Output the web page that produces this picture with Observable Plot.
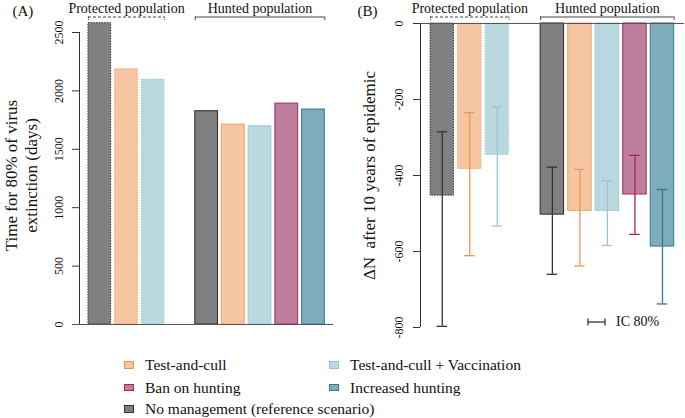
<!DOCTYPE html>
<html>
<head>
<meta charset="utf-8">
<script src="https://cdn.jsdelivr.net/npm/d3@7"></script>
<script src="https://cdn.jsdelivr.net/npm/@observablehq/plot@0.6"></script>
<style>
  body { margin: 0; background: #fff; }
  #wrap { position: relative; width: 685px; height: 418px; font-family: "Liberation Serif", "Times New Roman", serif; color: #111; overflow: hidden; }
  #pa { position: absolute; left: 0; top: 0; }
  #pb { position: absolute; left: 340px; top: 0; }
  .leg { position: absolute; display: flex; align-items: center; height: 20px; font-size: 15.5px; white-space: nowrap; }
  .sw { display: inline-block; width: 8px; height: 5.5px; border: 1.1px solid; margin-right: 11px; }
  #ic { position: absolute; left: 586px; top: 312px; font-size: 14px; display: flex; align-items: center; height: 20px; }
</style>
</head>
<body>
<div id="wrap">
  <div id="pa"></div>
  <div id="pb"></div>
  <div id="legend"></div>
  <div id="ic"><svg width="22" height="10" style="margin-right:8px"><line x1="2" y1="5" x2="19" y2="5" stroke="#222" stroke-width="1.2"/><line x1="2" y1="1.5" x2="2" y2="8.5" stroke="#222" stroke-width="1.2"/><line x1="19" y1="1.5" x2="19" y2="8.5" stroke="#222" stroke-width="1.2"/></svg><span>IC 80%</span></div>
</div>
<script>
// ---------------- data ----------------
const populations = ["Protected population", "Hunted population"];
const scenarios = ["No management (reference scenario)", "Test-and-cull", "Test-and-cull + Vaccination", "Ban on hunting", "Increased hunting"];

const barPopulation = ["Protected population", "Protected population", "Protected population",
  "Hunted population", "Hunted population", "Hunted population", "Hunted population", "Hunted population"];
const barScenario = [scenarios[0], scenarios[1], scenarios[2],
  scenarios[0], scenarios[1], scenarios[2], scenarios[3], scenarios[4]];

// (A) time for 80% of virus extinction (days)
const extinctionDays = [2580, 2185, 2097, 1826, 1711, 1697, 1891, 1840];
// (B) change in population size after 10 years of epidemic, with 80% interval
const deltaN     = [-453, -383, -346, -503, -493, -493, -450, -587];
const deltaNLow  = [-797, -611, -533, -660, -638, -584, -555, -738];
const deltaNHigh = [-285, -235, -219, -378, -384, -414, -347, -437];

const ticksA = [0, 500, 1000, 1500, 2000, 2500];
const ticksB = [0, -200, -400, -600, -800];

const legendOrder = [scenarios[1], scenarios[2], scenarios[3], scenarios[4], scenarios[0]];

// ---------------- styles ----------------
const fillC   = {[scenarios[0]]: "#808080", [scenarios[1]]: "#F5C6A1", [scenarios[2]]: "#BAD8E0", [scenarios[3]]: "#BF7E9E", [scenarios[4]]: "#7EACBD"};
const strokeC = {[scenarios[0]]: "#333333", [scenarios[1]]: "#F2A66A", [scenarios[2]]: "#A3CCD7", [scenarios[3]]: "#9E3966", [scenarios[4]]: "#3D7E9A"};
const errC    = {[scenarios[0]]: "#333333", [scenarios[1]]: "#EF9653", [scenarios[2]]: "#98C7D3", [scenarios[3]]: "#A2245C", [scenarios[4]]: "#2E7A97"};

// gap of one slot between the two population groups
const rows = barScenario.map((s, i) => ({
  pop: barPopulation[i], scen: s,
  slot: i + (barPopulation[i] === populations[1] ? 1 : 0),
  days: extinctionDays[i], dn: deltaN[i], lo: deltaNLow[i], hi: deltaNHigh[i]
}));
const half = 0.425;
const groups = populations.map(p => {
  const r = rows.filter(d => d.pop === p);
  return {pop: p, x1: r[0].slot - half, x2: r[r.length - 1].slot + half,
          mid: (r[0].slot + r[r.length - 1].slot) / 2, dashed: p === populations[0]};
});
const edges = groups.flatMap(g => [{x: g.x1, dashed: g.dashed}, {x: g.x2, dashed: g.dashed}]);
const prot = rows.filter(d => d.pop === populations[0]);
const hunt = rows.filter(d => d.pop === populations[1]);

const font = {fontFamily: "Liberation Serif, Times New Roman, serif", fontSize: "12px", background: "transparent", overflow: "visible", color: "#111"};

function headerMarks(yTop, textDy, bracketDy) {
  return [
    Plot.text(groups, {x: "mid", y: () => yTop, text: "pop", dy: textDy, lineAnchor: "bottom", fontSize: 14, fill: "#111"}),
    Plot.ruleY(groups.filter(g => g.dashed), {x1: "x1", x2: "x2", y: () => yTop, dy: bracketDy, stroke: "#444", strokeDasharray: "3,2"}),
    Plot.ruleY(groups.filter(g => !g.dashed), {x1: "x1", x2: "x2", y: () => yTop, dy: bracketDy, stroke: "#444"}),
    Plot.ruleX(edges.filter(e => e.dashed), {x: "x", y1: () => yTop, y2: () => yTop, dy: bracketDy, insetBottom: -3.5, stroke: "#444", strokeDasharray: "1.5,1"}),
    Plot.ruleX(edges.filter(e => !e.dashed), {x: "x", y1: () => yTop, y2: () => yTop, dy: bracketDy, insetBottom: -3.5, stroke: "#444"})
  ];
}

// ---------------- panel A ----------------
const xDomA = [-0.76, 8.75];
const plotA = Plot.plot({
  width: 340, height: 335,
  marginLeft: 79, marginRight: 7, marginTop: 32, marginBottom: 11,
  style: font,
  x: {type: "linear", domain: xDomA, axis: null},
  y: {domain: [0, 2500], axis: null},
  marks: [
    Plot.rect(prot, {x1: d => d.slot - half, x2: d => d.slot + half, y1: 0, y2: "days",
      fill: d => fillC[d.scen], stroke: d => strokeC[d.scen], strokeWidth: 1, strokeDasharray: "1.5,1.2"}),
    Plot.rect(hunt, {x1: d => d.slot - half, x2: d => d.slot + half, y1: 0, y2: "days",
      fill: d => fillC[d.scen], stroke: d => strokeC[d.scen], strokeWidth: 1.1}),
    Plot.ruleX([xDomA[0]], {y1: 0, y2: ticksA[ticksA.length - 1], stroke: "#333"}),
    Plot.ruleY(ticksA, {y: d => d, x1: xDomA[0], x2: xDomA[0], insetLeft: -7, stroke: "#333"}),
    Plot.ruleY([0], {insetLeft: -7, stroke: "#555", strokeWidth: 1.2}),
    Plot.text(ticksA, {y: d => d, text: d => String(d), frameAnchor: "left", dx: -20, rotate: -90, textAnchor: "middle", lineAnchor: "middle", fontSize: 12, fill: "#111"}),
    Plot.text(["Time for 80% of virus\nextinction (days)"], {text: d => d, frameAnchor: "left", dx: -59, dy: -3, rotate: -90, textAnchor: "middle", lineAnchor: "middle", fontSize: 17, lineHeight: 1.15, fill: "#111"}),
    Plot.text(["(A)"], {text: d => d, frameAnchor: "top-left", dx: -67, dy: -17, textAnchor: "start", lineAnchor: "bottom", fontSize: 15, fill: "#111"}),
    ...headerMarks(ticksA[ticksA.length - 1], -19.5, -15.5)
  ]
});
document.getElementById("pa").appendChild(plotA);

// ---------------- panel B ----------------
const xDomB = [-0.79, 8.8];
const plotB = Plot.plot({
  width: 345, height: 335,
  marginLeft: 80, marginRight: 1, marginTop: 23, marginBottom: 8,
  style: font,
  x: {type: "linear", domain: xDomB, axis: null},
  y: {domain: [-800, 0], axis: null},
  marks: [
    Plot.rect(prot, {x1: d => d.slot - half, x2: d => d.slot + half, y1: 0, y2: "dn",
      fill: d => fillC[d.scen], stroke: d => strokeC[d.scen], strokeWidth: 1, strokeDasharray: "1.5,1.2"}),
    Plot.rect(hunt, {x1: d => d.slot - half, x2: d => d.slot + half, y1: 0, y2: "dn",
      fill: d => fillC[d.scen], stroke: d => strokeC[d.scen], strokeWidth: 1.1}),
    Plot.ruleX(rows, {x: "slot", y1: "lo", y2: "hi", stroke: d => errC[d.scen], strokeWidth: 1.3}),
    Plot.ruleY(rows, {x1: d => d.slot - 0.19, x2: d => d.slot + 0.19, y: "lo", stroke: d => errC[d.scen], strokeWidth: 1.3}),
    Plot.ruleY(rows, {x1: d => d.slot - 0.19, x2: d => d.slot + 0.19, y: "hi", stroke: d => errC[d.scen], strokeWidth: 1.3}),
    Plot.ruleX([xDomB[0]], {y1: ticksB[ticksB.length - 1], y2: 0, stroke: "#333"}),
    Plot.ruleY(ticksB, {y: d => d, x1: xDomB[0], x2: xDomB[0], insetLeft: -7, stroke: "#333"}),
    Plot.ruleY([0], {stroke: "#555", strokeWidth: 1.2}),
    Plot.text(ticksB, {y: d => d, text: d => String(d), frameAnchor: "left", dx: -21, rotate: -90, textAnchor: "middle", lineAnchor: "middle", fontSize: 12, fill: "#111"}),
    Plot.text(["\u0394N  after 10 years of epidemic"], {text: d => d, frameAnchor: "left", dx: -51, dy: 0, rotate: -90, textAnchor: "middle", lineAnchor: "middle", fontSize: 17, fill: "#111"}),
    Plot.text(["(B)"], {text: d => d, frameAnchor: "top-left", dx: -63, dy: -8, textAnchor: "start", lineAnchor: "bottom", fontSize: 15, fill: "#111"}),
    ...headerMarks(0, -10.5, -6.5)
  ]
});
plotB.querySelectorAll("text").forEach(t => { if (t.textContent.includes("\u0394N")) t.setAttribute("xml:space", "preserve"); });
plotB.style.whiteSpace = "pre";
document.getElementById("pb").appendChild(plotB);

// ---------------- legend ----------------
const legend = document.getElementById("legend");
const legPos = [[124, 355], [329, 355], [124, 377.5], [329, 377.5], [124, 399]];
legendOrder.forEach((s, i) => {
  const div = document.createElement("div");
  div.className = "leg";
  div.style.left = legPos[i][0] + "px";
  div.style.top = legPos[i][1] + "px";
  const sw = document.createElement("span");
  sw.className = "sw";
  sw.style.background = fillC[s];
  sw.style.borderColor = errC[s];
  const tx = document.createElement("span");
  tx.textContent = s;
  div.appendChild(sw); div.appendChild(tx);
  legend.appendChild(div);
});
</script>
</body>
</html>
